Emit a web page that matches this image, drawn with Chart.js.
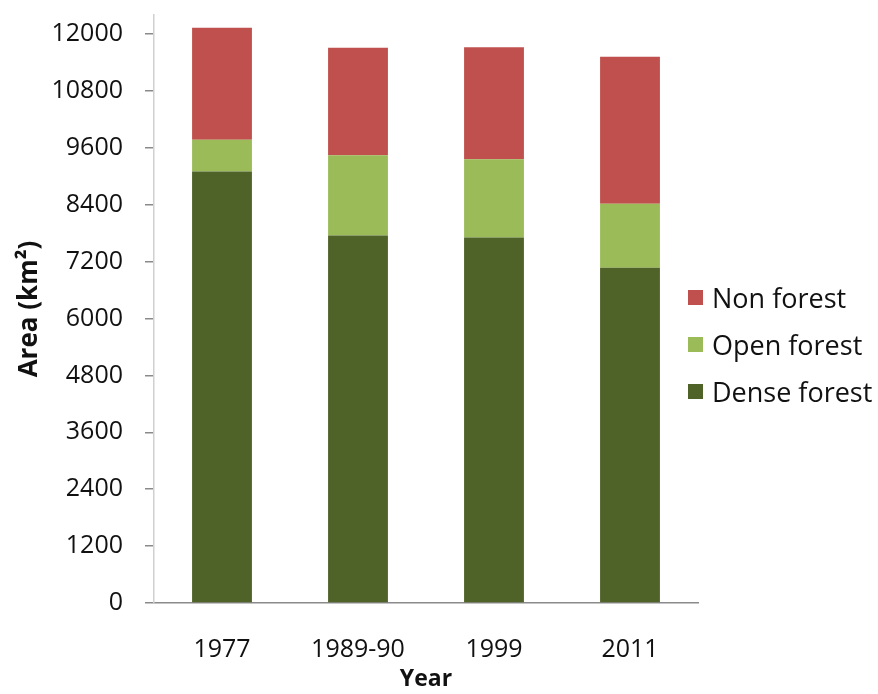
<!DOCTYPE html>
<html>
<head>
<meta charset="utf-8">
<script src="https://cdn.jsdelivr.net/npm/chart.js@4/dist/chart.umd.min.js"></script>
<style>
  body { margin: 0; background: #fff; }
  #wrap { position: relative; width: 878px; height: 694px; }
  #legend { position: absolute; left: 688px; top: 274px; font-family: "Open Sans", sans-serif; font-size: 27px; color: #111; }
  .item { display: flex; align-items: center; height: 47px; }
  .box { width: 15px; height: 15px; margin-right: 9px; }
</style>
</head>
<body>
<div id="wrap">
  <canvas id="chart" width="878" height="694"></canvas>
  <div id="legend"></div>
</div>
<script>
const years = ["1977", "1989-90", "1999", "2011"];
const denseForest = [9100, 7750, 7710, 7070];
const openForest = [670, 1690, 1650, 1350];
const nonForest = [2360, 2270, 2360, 3100];
const yTicks = [0, 1200, 2400, 3600, 4800, 6000, 7200, 8400, 9600, 10800, 12000];

const series = [
  { label: "Dense forest", data: denseForest, color: "#4F6228" },
  { label: "Open forest", data: openForest, color: "#9BBB59" },
  { label: "Non forest", data: nonForest, color: "#C0504D" },
];

const font = "'Open Sans', sans-serif";

// legend drawn as html, top item first like the original
const legendEl = document.getElementById("legend");
for (const s of series.slice().reverse()) {
  const row = document.createElement("div");
  row.className = "item";
  row.innerHTML = `<span class="box" style="background:${s.color}"></span><span>${s.label}</span>`;
  legendEl.appendChild(row);
}

new Chart(document.getElementById("chart"), {
  type: "bar",
  data: {
    labels: years,
    datasets: series.map((s) => ({
      label: s.label,
      data: s.data,
      backgroundColor: s.color,
      categoryPercentage: 1,
      barPercentage: 0.44,
    })),
  },
  options: {
    responsive: false,
    animation: false,
    layout: { padding: { left: 0, right: 180, top: 15, bottom: 0 } },
    plugins: { legend: { display: false }, tooltip: { enabled: false } },
    scales: {
      x: {
        stacked: true,
        grid: { display: false },
        border: { color: "#8a8a8a", width: 1.5 },
        ticks: { color: "#111", font: { family: font, size: 25 }, padding: 24 },
        title: { display: true, text: "Year", color: "#111", font: { family: font, size: 23, weight: "bold" }, padding: { top: 0, bottom: 1 } },
        afterFit(scale) { scale.height = 91; },
      },
      y: {
        stacked: true,
        min: 0,
        max: 12400,
        afterBuildTicks(scale) { scale.ticks = yTicks.map((v) => ({ value: v })); },
        grid: { drawOnChartArea: false, tickLength: 9, color: "#8a8a8a", lineWidth: 1.5 },
        border: { color: "#d0d0d0", width: 1.5 },
        ticks: { color: "#111", font: { family: font, size: 25 }, padding: 22, callback: (v) => String(v) },
        title: { display: true, text: "Area (km²)", color: "#111", font: { family: font, size: 26, weight: "bold" }, padding: { top: 14, bottom: 0 } },
        afterFit(scale) {
          scale.width = 154;
          scale.paddingTop = 0;
        },
      },
    },
  },
});
</script>
</body>
</html>
